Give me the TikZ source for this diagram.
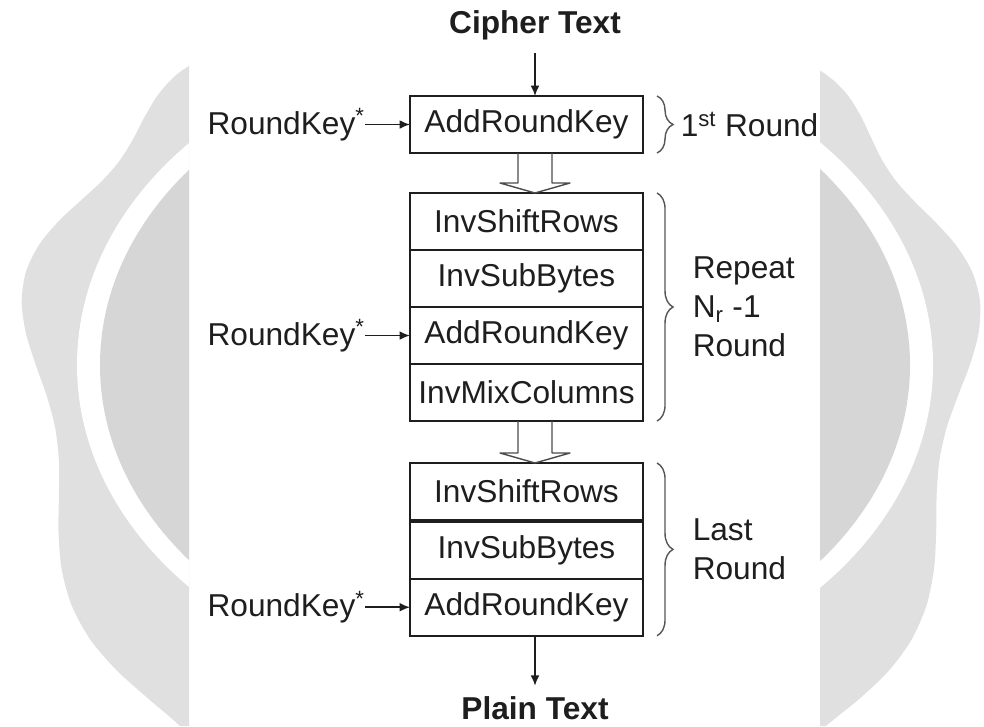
\documentclass[tikz,border=0pt]{standalone}
\usepackage{fontspec}
\setmainfont{Liberation Sans}
\usepackage{xcolor}
\usepackage{tikz}
\usetikzlibrary{arrows.meta,positioning,calc,decorations.pathreplacing}
\definecolor{ink}{HTML}{1E1E1E}
\definecolor{sealout}{HTML}{E0E0E0}
\definecolor{sealin}{HTML}{D6D6D6}

\begin{document}
\begin{tikzpicture}[x=0.025cm, y=-0.025cm,
  every node/.style={text=ink, font=\fontsize{22.5}{27.7}\selectfont},
  stage/.style={draw=ink, line width=1.3pt, minimum width=5.825cm,
                minimum height=1.425cm, inner sep=0pt, outer sep=0pt},
  endtext/.style={font=\fontsize{22.5}{27.7}\selectfont\bfseries},
  key/.style={inner sep=0pt},
  note/.style={inner sep=0pt, align=left, anchor=west},
  arrow/.style={-{Latex[length=2.6mm,width=2.2mm]}, line width=1.1pt, draw=ink},
  hollow/.style={line width=1pt, draw=ink!80, line join=round},
  brace/.style={decorate, decoration={brace, amplitude=0.4cm},
                line width=1pt, draw=ink!75}
]
\useasboundingbox (0,0) rectangle (984,726);

% seal in the background, only at the sides
\begin{scope}
  \clip (0,0) rectangle (189,726) (820,0) rectangle (984,726);
  \fill[sealout] plot[smooth cycle, domain=0:356, samples=90, variable=\t]
    ({500+(467+18*cos(9*(\t-9)))*cos(\t)},
     {365-(452+15*cos(9*(\t-9))-100*sin(\t))*sin(\t)});
  \fill[white] (505,365) ellipse [x radius=428, y radius=329];
  \fill[sealin] (505,365) ellipse [x radius=405, y radius=312];
\end{scope}

\node[endtext] (cipher) at (535,25) {Cipher Text};
\node[stage] (ark1) at (526.5,124.5) {AddRoundKey};

\node[stage] (isr2) at (526.5,221.5) {InvShiftRows};
\node[stage, below=0pt of isr2] (sub2) {InvSubBytes};
\node[stage, below=0pt of sub2] (ark2) {AddRoundKey};
\node[stage, below=0pt of ark2] (imc2) {InvMixColumns};

\node[stage] (isr3) at (526.5,491.5) {InvShiftRows};
\node[stage, below=1.2pt of isr3] (sub3) {InvSubBytes};
\node[stage, below=0pt of sub3] (ark3) {AddRoundKey};
\node[endtext] (plain) at (535,708) {Plain Text};

\node[key, left=1.125cm of ark1] (rk1) {RoundKey\textsuperscript{*}};
\node[key, left=1.125cm of ark2] (rk2) {RoundKey\textsuperscript{*}};
\node[key, left=1.125cm of ark3] (rk3) {RoundKey\textsuperscript{*}};

\draw[arrow, shorten <=6pt] (cipher) -- (cipher |- ark1.north);
\draw[arrow, shorten >=4pt] (ark3.south -| plain) -- (plain);
\draw[arrow] (rk1) -- (ark1);
\draw[arrow] (rk2) -- (ark2);
\draw[arrow] (rk3) -- (ark3);

% hollow arrows between the rounds
\foreach \a/\b in {ark1/isr2, imc2/isr3}
  \draw[hollow] ($(\a.south)+(-8.5,0)$) -- ($(\b.north)+(-8.5,-10)$)
    -- ($(\b.north)+(-26.5,-10)$) -- ($(\b.north)+(8.5,0)$)
    -- ($(\b.north)+(43.5,-10)$) -- ($(\b.north)+(25.5,-10)$)
    -- ($(\a.south)+(25.5,0)$);

\draw[brace] ($(ark1.north east)+(14,0)$) -- ($(ark1.south east)+(14,0)$)
  node[note, midway, right=0.575cm] {1\textsuperscript{st} Round};
\draw[brace] ($(isr2.north east)+(14,0)$) -- ($(imc2.south east)+(14,0)$)
  node[note, midway, right=0.875cm] {Repeat\\N\textsubscript{r} -1\\Round};
\draw[brace] ($(isr3.north east)+(14,0)$) -- ($(ark3.south east)+(14,0)$)
  node[note, midway, right=0.875cm] {Last\\Round};
\end{tikzpicture}
\end{document}
